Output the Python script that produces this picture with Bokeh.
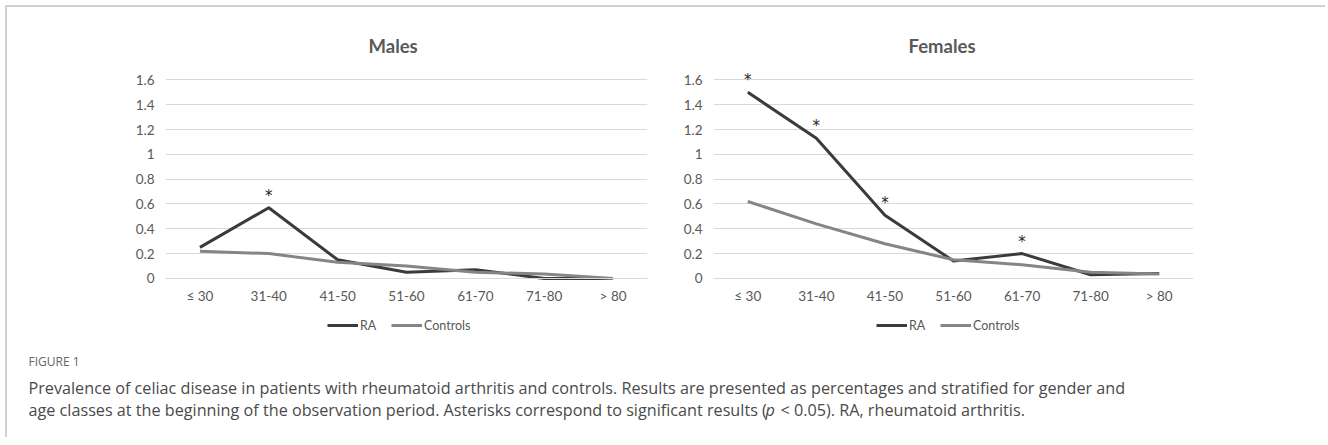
from bokeh.plotting import figure
from bokeh.models import (FactorRange, Range1d, FixedTicker, CustomJSTickFormatter,
                          Legend, LegendItem, Label, Div)
from bokeh.layouts import row, column
from bokeh.embed import file_html
from bokeh.resources import INLINE
from bokeh.core.properties import value

# ---------------- data ----------------
age_groups = ["≤ 30", "31-40", "41-50", "51-60", "61-70", "71-80", "> 80"]
males_ra = [0.25, 0.57, 0.15, 0.05, 0.07, 0.0, 0.0]
males_controls = [0.22, 0.20, 0.13, 0.10, 0.05, 0.035, 0.0]
females_ra = [1.50, 1.13, 0.51, 0.14, 0.20, 0.03, 0.04]
females_controls = [0.62, 0.44, 0.28, 0.15, 0.11, 0.05, 0.035]
males_significant = ["31-40"]
females_significant = ["≤ 30", "31-40", "41-50", "61-70"]
y_ticks = [0, 0.2, 0.4, 0.6, 0.8, 1.0, 1.2, 1.4, 1.6]
series_names = ["RA", "Controls"]
panel_titles = ["Males", "Females"]

figure_label = "FIGURE 1"
caption_line1 = ("Prevalence of celiac disease in patients with rheumatoid arthritis and controls. "
                 "Results are presented as percentages and stratified for gender and")
caption_line2a = ("age classes at the beginning of the observation period. "
                  "Asterisks correspond to significant results (")
caption_line2b = "p"
caption_line2c = "< 0.05). RA, rheumatoid arthritis."

RA_COLOR = "#3b3b3b"
CTRL_COLOR = "#858585"
TEXT_COLOR = "#595959"
GRID_COLOR = "#d9d9d9"
FONT = "Lato"
PLOT_H = 330
TOP = 60
BOTTOM = 2
Y_MIN, Y_MAX = -0.46, 1.7   # frame extends below the axis to hold the legend


def make_panel(title, ra, ctrl, significant, mb_left, frame_w, mb_right,
               title_offset, legend_x):
    p = figure(x_range=FactorRange(*age_groups), y_range=Range1d(Y_MIN, Y_MAX),
               width=mb_left + frame_w + mb_right, height=PLOT_H,
               min_border_left=mb_left, min_border_right=mb_right,
               min_border_top=TOP, min_border_bottom=BOTTOM,
               output_backend="svg", toolbar_location=None)
    p.outline_line_color = None
    p.background_fill_color = "white"
    p.border_fill_color = "white"

    p.title.text = title
    p.title.align = "left"
    p.title.offset = title_offset
    p.title.text_font = FONT
    p.title.text_font_style = "bold"
    p.title.text_font_size = "18.5px"
    p.title.text_color = TEXT_COLOR
    p.title.standoff = 21

    p.xgrid.grid_line_color = None
    p.ygrid.ticker = FixedTicker(ticks=y_ticks)
    p.ygrid.grid_line_color = GRID_COLOR
    p.ygrid.grid_line_width = 1

    p.yaxis.ticker = FixedTicker(ticks=y_ticks)
    p.yaxis.formatter = CustomJSTickFormatter(
        code="return tick.toFixed(1).replace(/\\.0$/, '');")
    p.yaxis.axis_line_color = None
    p.yaxis.major_tick_line_color = None
    p.yaxis.minor_tick_line_color = None
    p.yaxis.major_tick_out = 0
    p.yaxis.major_label_standoff = 11

    p.xaxis.fixed_location = 0
    p.xaxis.axis_line_color = GRID_COLOR
    p.xaxis.major_tick_line_color = None
    p.xaxis.major_tick_out = 0
    p.xaxis.major_tick_in = 0
    p.xaxis.major_label_standoff = 10

    for ax in (p.xaxis, p.yaxis):
        ax.major_label_text_font = FONT
        ax.major_label_text_font_size = "13.5px"
        ax.major_label_text_color = TEXT_COLOR

    r_ra = p.line(x=age_groups, y=ra, line_color=RA_COLOR, line_width=3,
                  line_join="round")
    r_ctrl = p.line(x=age_groups, y=ctrl, line_color=CTRL_COLOR, line_width=3,
                    line_join="round")

    sig_y = [ra[age_groups.index(g)] for g in significant]
    p.text(x=significant, y=sig_y, text=["*"] * len(significant),
           text_align="center", text_baseline="alphabetic", y_offset=-12,
           text_font=value("DejaVu Sans"), text_font_size="15px",
           text_color="#262626")

    legend = Legend(items=[LegendItem(label=series_names[0], renderers=[r_ra]),
                           LegendItem(label=series_names[1], renderers=[r_ctrl])],
                    orientation="horizontal", location=(legend_x, 2),
                    glyph_width=31, glyph_height=16, label_height=16,
                    label_standoff=2, spacing=11, padding=0, margin=0,
                    border_line_color=None, background_fill_alpha=0,
                    label_text_font=FONT, label_text_font_size="12.5px",
                    label_text_color=TEXT_COLOR)
    p.add_layout(legend, "center")
    return p


p_m = make_panel(panel_titles[0], males_ra, males_controls, males_significant,
                 158, 482, 33, 203, 162)
p_f = make_panel(panel_titles[1], females_ra, females_controls, females_significant,
                 30, 483, 132, 195, 163)

CAP_W = p_m.width + p_f.width
CAP_H = 100
cap = figure(width=CAP_W, height=CAP_H, x_range=Range1d(0, CAP_W),
             y_range=Range1d(CAP_H, 0), min_border=0,
             output_backend="svg", toolbar_location=None)
cap.axis.visible = False
cap.grid.visible = False
cap.outline_line_color = None

CAP_FONT = "Open Sans"
CAP_SIZE = "16.2px"
CAP_COLOR = "#4a4a4a"
cap.add_layout(Label(x=21, y=24, text=figure_label, text_baseline="middle",
                     text_font=CAP_FONT, text_font_size="12px",
                     text_color="#666666"))
cap.add_layout(Label(x=21, y=50, text=caption_line1, text_baseline="middle",
                     text_font=CAP_FONT, text_font_size=CAP_SIZE,
                     text_color=CAP_COLOR))
cap.add_layout(Label(x=21, y=72, text=caption_line2a, text_baseline="middle",
                     text_font=CAP_FONT, text_font_size=CAP_SIZE,
                     text_color=CAP_COLOR))
cap.add_layout(Label(x=758, y=72, text=caption_line2b, text_baseline="middle",
                     text_font=CAP_FONT, text_font_style="italic",
                     text_font_size=CAP_SIZE, text_color=CAP_COLOR))
cap.add_layout(Label(x=773, y=72, text=caption_line2c, text_baseline="middle",
                     text_font=CAP_FONT, text_font_size=CAP_SIZE,
                     text_color=CAP_COLOR))

top_bar = Div(text="", width=CAP_W, height=2, margin=0,
              styles={"background-color": "#d0d0d0"})
left_bar = Div(text="", width=2, height=2 + PLOT_H + CAP_H, margin=0,
               styles={"background-color": "#d0d0d0"})

layout = row(left_bar, column(top_bar, row(p_m, p_f), cap), margin=(5, 0, 0, 5))

open("out.html", "w").write(file_html(layout, INLINE))
